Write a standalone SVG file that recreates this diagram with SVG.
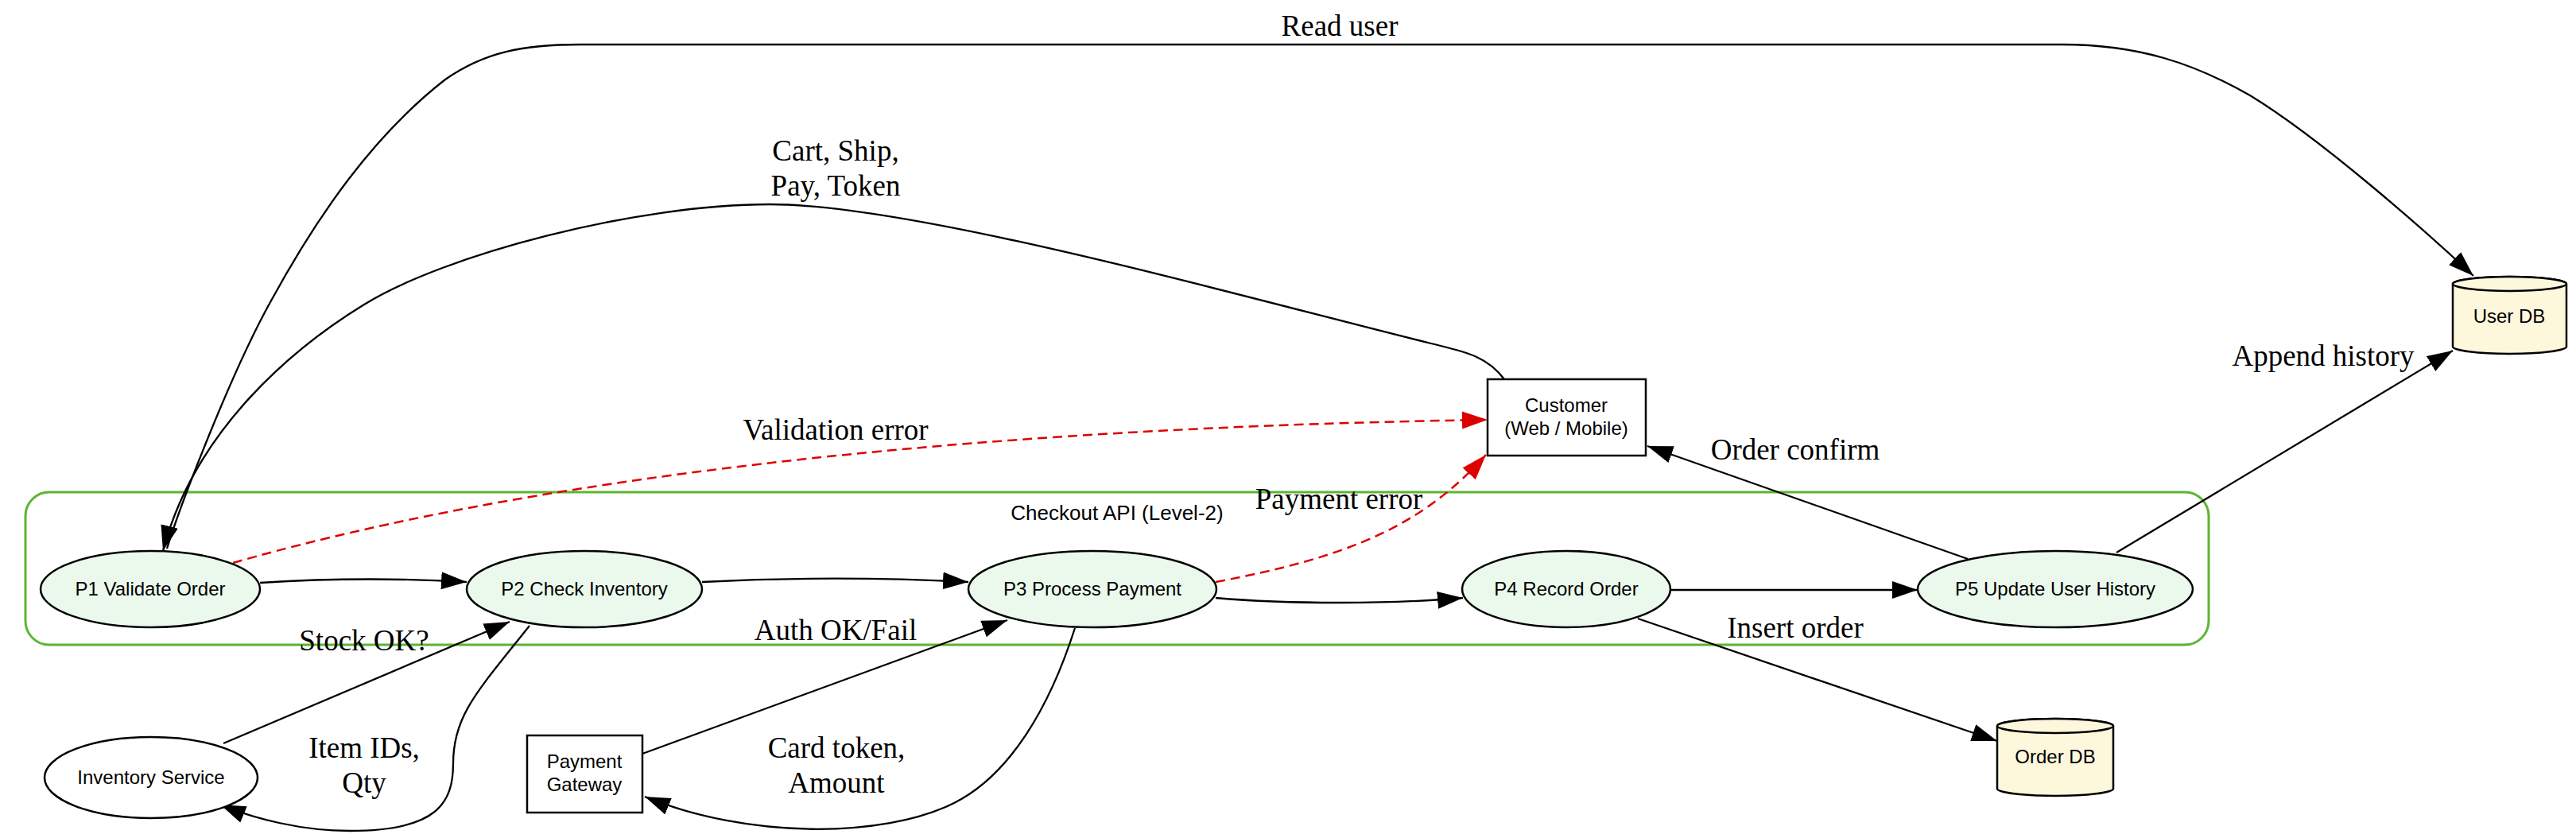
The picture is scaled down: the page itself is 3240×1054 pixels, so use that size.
<svg xmlns="http://www.w3.org/2000/svg" width="3240" height="1054" viewBox="0 0 3240 1054">
<defs>
<style>
.node{stroke:#000;stroke-width:2.5}
.proc{fill:#ebf9ec}
.ext{fill:#fff}
.db{fill:#fdf7dc;stroke:#000;stroke-width:2.5}
.nt{font-family:"Liberation Sans",Arial,sans-serif;font-size:24px;fill:#000;text-anchor:middle}
.gt{font-family:"Liberation Sans",Arial,sans-serif;font-size:26px;fill:#000;text-anchor:middle}
.el{font-family:"Liberation Serif","Times New Roman",serif;font-size:37px;fill:#000;text-anchor:middle}
.e{fill:none;stroke:#000;stroke-width:2.3;marker-end:url(#ah)}
.err{fill:none;stroke:#dd0000;stroke-width:2.5;stroke-dasharray:12,7;marker-end:url(#ahr)}
</style>
<marker id="ah" markerUnits="userSpaceOnUse" viewBox="0 0 34 24" markerWidth="34" markerHeight="24" refX="32" refY="11" orient="auto"><path d="M0,0 L32,11 L0,22 z" fill="#000"/></marker>
<marker id="ahr" markerUnits="userSpaceOnUse" viewBox="0 0 34 24" markerWidth="34" markerHeight="24" refX="32" refY="11" orient="auto"><path d="M0,0 L32,11 L0,22 z" fill="#dd0000"/></marker>
</defs>
<rect width="3240" height="1054" fill="#fff"/>

<g id="cluster-checkout">
<rect x="32" y="619" width="2746" height="192" rx="30" ry="30" fill="none" stroke="#5cb531" stroke-width="3"/>
<text class="gt" x="1405" y="654">Checkout API (Level-2)</text>
</g>

<g id="connectors">
<path class="e" d="M210,690 C225,640 290,470 340,380 C400,270 470,170 560,100 C610,65 660,56 729,56 L2594,56 C2690,56 2760,80 2830,120 C2920,175 3050,290 3111,347"/>
<path class="e" d="M1892,477 C1870,447 1840,442 1800,432 C1550,370 1150,257 968,257 C800,257 560,320 458,383 C370,437 245,540 205,693"/>
<path class="err" d="M293,708 C600,620 1100,540 1871,528"/>
<path class="err" d="M1529,732 C1700,700 1790,660 1869,572"/>
<path class="e" d="M327,733 C420,727 500,727 587,732"/>
<path class="e" d="M883,732 C1000,726 1100,726 1218,732"/>
<path class="e" d="M1529,752 C1620,760 1750,760 1840,752"/>
<path class="e" d="M2101,742 L2412,742"/>
<path class="e" d="M2060,778 L2512,932"/>
<path class="e" d="M2475,703 L2072,561"/>
<path class="e" d="M2662,695 L3085,441"/>
<path class="e" d="M281,935 L641,782"/>
<path class="e" d="M666,787 C600,870 570,900 570,960 C570,1010 550,1045 440,1045 C380,1045 320,1030 277,1012"/>
<path class="e" d="M808,948 L1267,780"/>
<path class="e" d="M1352,790 C1320,890 1270,975 1200,1010 C1110,1055 940,1055 811,1002"/>
<text class="el" x="1685" y="45">Read user</text>
<text class="el" x="1051" y="202">Cart, Ship,</text>
<text class="el" x="1051" y="246">Pay, Token</text>
<text class="el" x="1051" y="553">Validation error</text>
<text class="el" x="1684" y="640">Payment error</text>
<text class="el" x="2258" y="578">Order confirm</text>
<text class="el" x="2922" y="460">Append history</text>
<text class="el" x="458" y="818">Stock OK?</text>
<text class="el" x="1051" y="805">Auth OK/Fail</text>
<text class="el" x="2258" y="802">Insert order</text>
<text class="el" x="458" y="953">Item IDs,</text>
<text class="el" x="458" y="997">Qty</text>
<text class="el" x="1052" y="953">Card token,</text>
<text class="el" x="1052" y="997">Amount</text>
</g>

<g id="P1">
<ellipse class="node proc" cx="189" cy="741" rx="138" ry="48"/>
<text class="nt" x="189" y="749">P1 Validate Order</text>
</g>
<g id="P2">
<ellipse class="node proc" cx="735" cy="741" rx="148" ry="48"/>
<text class="nt" x="735" y="749">P2 Check Inventory</text>
</g>
<g id="P3">
<ellipse class="node proc" cx="1374" cy="741" rx="156" ry="48"/>
<text class="nt" x="1374" y="749">P3 Process Payment</text>
</g>
<g id="P4">
<ellipse class="node proc" cx="1970" cy="741" rx="131" ry="48"/>
<text class="nt" x="1970" y="749">P4 Record Order</text>
</g>
<g id="P5">
<ellipse class="node proc" cx="2585" cy="741" rx="173" ry="48"/>
<text class="nt" x="2585" y="749">P5 Update User History</text>
</g>
<g id="customer">
<rect class="node ext" x="1871" y="477" width="199" height="96"/>
<text class="nt" x="1970" y="518">Customer</text>
<text class="nt" x="1970" y="547">(Web / Mobile)</text>
</g>
<g id="inventory-service">
<ellipse class="node ext" cx="190" cy="978" rx="134" ry="51"/>
<text class="nt" x="190" y="986">Inventory Service</text>
</g>
<g id="payment-gateway">
<rect class="node ext" x="663" y="925" width="145" height="97"/>
<text class="nt" x="735" y="966">Payment</text>
<text class="nt" x="735" y="995">Gateway</text>
</g>
<g id="user-db">
<path class="db" d="M3085,357 L3085,436 A71.5,9 0 0 0 3228,436 L3228,357 A71.5,9 0 0 0 3085,357 Z"/>
<ellipse class="db" cx="3156.5" cy="357" rx="71.5" ry="9"/>
<text class="nt" x="3156" y="406">User DB</text>
</g>
<g id="order-db">
<path class="db" d="M2512,913 L2512,992 A73,9 0 0 0 2658,992 L2658,913 A73,9 0 0 0 2512,913 Z"/>
<ellipse class="db" cx="2585" cy="913" rx="73" ry="9"/>
<text class="nt" x="2585" y="960">Order DB</text>
</g>
</svg>
